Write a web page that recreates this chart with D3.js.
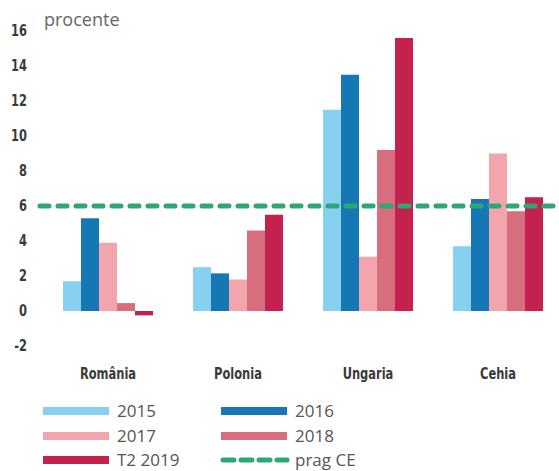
<!DOCTYPE html>
<html>
<head>
<meta charset="utf-8">
<script src="https://cdn.jsdelivr.net/npm/d3@7"></script>
<style>
  html, body { margin: 0; padding: 0; background: #fff; }
  svg { display: block; }
</style>
</head>
<body>
<svg id="chart" width="559" height="471"></svg>
<script>
// Country groups and series (percent)
const categories = ["România", "Polonia", "Ungaria", "Cehia"];
const seriesNames = ["2015", "2016", "2017", "2018", "T2 2019"];
const values2015 = [1.7, 2.5, 11.5, 3.7];
const values2016 = [5.3, 2.15, 13.5, 6.4];
const values2017 = [3.9, 1.8, 3.1, 9.0];
const values2018 = [0.45, 4.6, 9.2, 5.7];
const valuesT2019 = [-0.25, 5.5, 15.6, 6.5];
const thresholdValue = 6;          // prag CE
const thresholdName = "prag CE";
const yTicks = [-2, 0, 2, 4, 6, 8, 10, 12, 14, 16];
const seriesColors = ["#87d0f0", "#1578b5", "#f3a5ae", "#d76e7e", "#c4214f"];
const lineColor = "#2ea777";

const seriesValues = [values2015, values2016, values2017, values2018, valuesT2019];

const svg = d3.select("#chart");

const y = d3.scaleLinear().domain([-2, 16]).range([346, 31]);
const x0 = d3.scaleBand().domain(categories).range([43, 563])
  .paddingInner(4 / 13).paddingOuter(2 / 13);
const x1 = d3.scaleBand().domain(seriesNames).range([0, x0.bandwidth()]);

const labelFont = "'DejaVu Sans Condensed', 'DejaVu Sans', sans-serif";

// Y axis: labels only
const yAxis = d3.axisLeft(y).tickValues(yTicks).tickSize(0).tickPadding(0)
  .tickFormat(d => String(d));
const gy = svg.append("g").attr("transform", "translate(27,0)").call(yAxis);
gy.select(".domain").remove();
gy.selectAll("text")
  .attr("font-family", labelFont)
  .attr("font-weight", "bold")
  .attr("font-size", 15)
  .attr("transform", "scale(0.85,1)")
  .attr("fill", "#3a3a3a");

svg.append("text")
  .attr("x", 44).attr("y", 26)
  .attr("font-family", "'Open Sans', sans-serif")
  .attr("font-size", 18)
  .attr("fill", "#666")
  .text("procente");

// Bars
const groups = svg.append("g").selectAll("g")
  .data(categories)
  .join("g")
  .attr("transform", d => `translate(${x0(d)},0)`);

groups.selectAll("rect")
  .data((c, ci) => seriesNames.map((s, si) => ({ s, si, v: seriesValues[si][ci] })))
  .join("rect")
  .attr("x", d => x1(d.s))
  .attr("width", x1.bandwidth())
  .attr("y", d => y(Math.max(0, d.v)))
  .attr("height", d => Math.abs(y(d.v) - y(0)))
  .attr("fill", d => seriesColors[d.si]);

// Category labels
const xAxis = d3.axisBottom(x0).tickSize(0).tickPadding(0);
const gx = svg.append("g").attr("transform", "translate(0,368)").call(xAxis);
gx.select(".domain").remove();
gx.selectAll("text")
  .attr("font-family", labelFont)
  .attr("font-weight", "bold")
  .attr("font-size", 15)
  .attr("transform", "scale(0.85,1)")
  .attr("fill", "#3a3a3a");

// Threshold line
svg.append("line")
  .attr("x1", 40).attr("x2", 559)
  .attr("y1", y(thresholdValue)).attr("y2", y(thresholdValue))
  .attr("stroke", lineColor)
  .attr("stroke-width", 5)
  .attr("stroke-linecap", "round")
  .attr("stroke-dasharray", "9 9");

// Legend
const legendItems = [
  { name: seriesNames[0], color: seriesColors[0], col: 0, row: 0 },
  { name: seriesNames[1], color: seriesColors[1], col: 1, row: 0 },
  { name: seriesNames[2], color: seriesColors[2], col: 0, row: 1 },
  { name: seriesNames[3], color: seriesColors[3], col: 1, row: 1 },
  { name: seriesNames[4], color: seriesColors[4], col: 0, row: 2 },
  { name: thresholdName, color: lineColor, col: 1, row: 2, dashed: true }
];
const colX = [43, 221];
const rowY = [411, 436, 460];
const lg = svg.append("g").selectAll("g").data(legendItems).join("g")
  .attr("transform", d => `translate(${colX[d.col]},${rowY[d.row]})`);
lg.filter(d => !d.dashed).append("rect")
  .attr("x", 0).attr("y", -4).attr("width", 66).attr("height", 8)
  .attr("fill", d => d.color);
lg.filter(d => d.dashed).append("line")
  .attr("x1", 2).attr("x2", 66).attr("y1", 0).attr("y2", 0)
  .attr("stroke", d => d.color)
  .attr("stroke-width", 5)
  .attr("stroke-linecap", "round")
  .attr("stroke-dasharray", "11 7");
lg.append("text")
  .attr("x", 74).attr("y", 0).attr("dy", "0.36em")
  .attr("font-family", "'Open Sans', sans-serif")
  .attr("font-size", 17)
  .attr("fill", "#555")
  .text(d => d.name);
</script>
</body>
</html>
